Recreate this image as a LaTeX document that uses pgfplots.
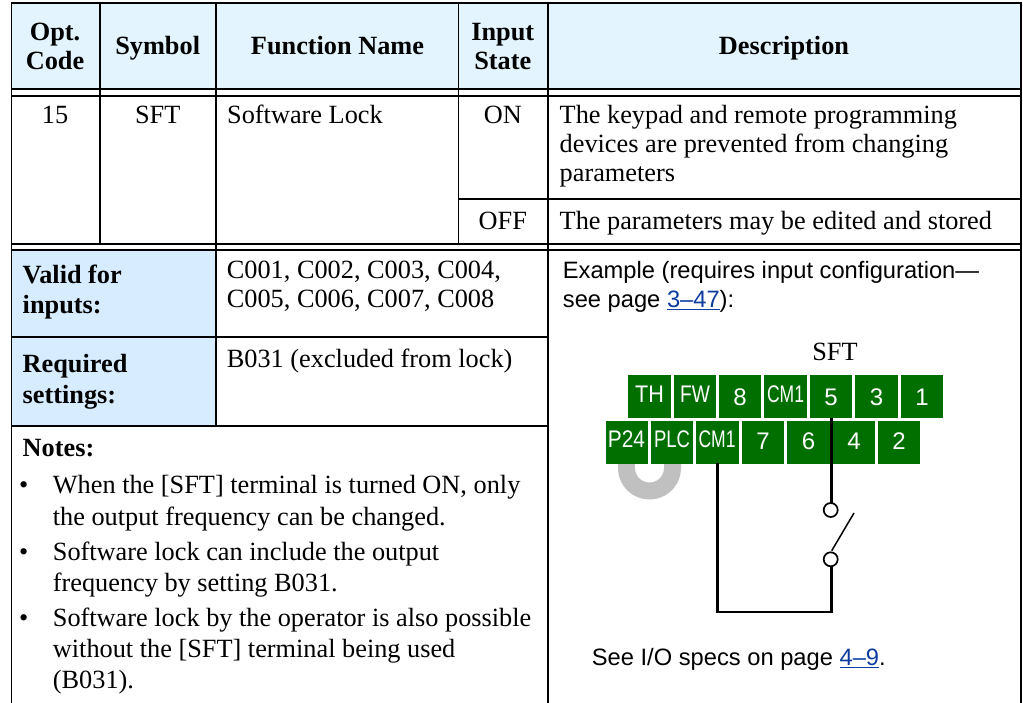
\documentclass[border=0pt]{standalone}
\usepackage{fontspec}
\setmainfont{Liberation Serif}
\newfontfamily\arial{Liberation Sans}
\usepackage{pgfplots}
\pgfplotsset{compat=1.18}
\definecolor{hdr}{HTML}{E4F4FF}
\definecolor{side}{HTML}{D7EDFF}
\definecolor{grn}{HTML}{006F00}
\definecolor{lnk}{HTML}{0B3BA0}
\definecolor{ug}{HTML}{C0C0C0}
\newcommand{\rmf}{\fontsize{26.3}{29}\selectfont}
\newcommand{\sa}{\arial\fontsize{23.7}{27}\selectfont}
\newcommand{\tT}[3]{\node[anchor=base west,inner sep=0pt] at (axis cs:#1,#2) {\rmf #3};}
\newcommand{\tC}[3]{\node[anchor=base,inner sep=0pt] at (axis cs:#1,#2) {\rmf #3};}
\newcommand{\tB}[3]{\node[anchor=base,inner sep=0pt] at (axis cs:#1,#2) {\rmf\bfseries #3};}
\newcommand{\tBL}[3]{\node[anchor=base west,inner sep=0pt] at (axis cs:#1,#2) {\rmf\bfseries #3};}
\newcommand{\tS}[3]{\node[anchor=base west,inner sep=0pt] at (axis cs:#1,#2) {\sa #3};}
\newcommand{\tG}[4]{\node[anchor=base,inner sep=0pt,text=white,xscale=#4] at (axis cs:#1,#2) {\arial\fontsize{24}{28}\selectfont #3};}
\newcommand{\tBox}[4]{\addplot[fill=grn,draw=none] coordinates {(#1,#3)(#2,#3)(#2,#4)(#1,#4)} -- cycle;}
\newcommand{\Lk}[1]{\textcolor{lnk}{\underline{#1}}}
\begin{document}
\begin{tikzpicture}
\begin{axis}[scale only axis,width=1023pt,height=703pt,xmin=0,xmax=1023,ymin=0,ymax=703,y dir=reverse,hide axis,clip=true]
% fills
\addplot[fill=hdr,draw=none] coordinates {(11,3)(1021,3)(1021,89)(11,89)} -- cycle;
\addplot[fill=side,draw=none] coordinates {(11,250)(216,250)(216,426)(11,426)} -- cycle;
% grey U
\addplot[ug,line width=17pt,smooth] coordinates {(672.5,455)(672.5,468)(671.7,474)(669.4,479.5)(665.8,484.3)(661,487.9)(655.5,490.2)(649.5,491)(643.5,490.2)(638,487.9)(633.2,484.3)(629.6,479.5)(627.3,474)(626.5,468)(626.5,455)};
% table rules
\addplot[black,line width=1.8pt] coordinates {(11,3)(1021,3)};
\addplot[black,line width=1.8pt] coordinates {(11,89)(1021,89)};
\addplot[black,line width=1.8pt] coordinates {(11,95.7)(1021,95.7)};
\addplot[black,line width=1.8pt] coordinates {(458.5,199)(1021,199)};
\addplot[black,line width=1.8pt] coordinates {(11,244)(1021,244)};
\addplot[black,line width=1.8pt] coordinates {(11,250)(1021,250)};
\addplot[black,line width=1.8pt] coordinates {(11,337.3)(547.7,337.3)};
\addplot[black,line width=1.8pt] coordinates {(11,425.7)(547.7,425.7)};
\addplot[black,line width=1.8pt] coordinates {(11.4,2)(11.4,703)};
\addplot[black,line width=1.8pt] coordinates {(100,2)(100,244)};
\addplot[black,line width=1.8pt] coordinates {(216,2)(216,426)};
\addplot[black,line width=1.8pt] coordinates {(458.5,2)(458.5,244)};
\addplot[black,line width=1.8pt] coordinates {(547.7,2)(547.7,703)};
\addplot[black,line width=1.8pt] coordinates {(1021,2)(1021,703)};
% terminals
\tBox{628}{671}{375}{417.7}
\tBox{674}{716}{375}{417.7}
\tBox{719}{761}{375}{417.7}
\tBox{764}{807}{375}{417.7}
\tBox{810}{852}{375}{417.7}
\tBox{855}{898}{375}{417.7}
\tBox{901}{943}{375}{417.7}
\tBox{606}{648}{421}{463.7}
\tBox{651}{693}{421}{463.7}
\tBox{696}{739}{421}{463.7}
\tBox{742}{784}{421}{463.7}
\tBox{787}{830}{421}{463.7}
\tBox{833}{875}{421}{463.7}
\tBox{878}{920}{421}{463.7}
% wires
\addplot[black,line width=2.5pt] coordinates {(831.7,418)(831.7,503)};
\addplot[black,line width=2.5pt] coordinates {(831.7,566)(831.7,612)(717.7,612)(717.7,463)};
\addplot[black,line width=1.5pt] coordinates {(854,513)(831.7,550.7)};
\addplot[only marks,mark=*,mark size=7pt,mark options={fill=white,draw=black,line width=1.7pt}] coordinates {(830.7,510)(830.7,559.3)};
% header
\tB{55}{40.7}{Opt.}
\tB{55}{69.3}{Code}
\tB{157.7}{55}{Symbol}
\tB{337.5}{55}{Function Name}
\tB{502.8}{40.7}{Input}
\tB{502.8}{69.3}{State}
\tB{784}{54.5}{Description}
% row
\tC{55}{124}{15}
\tC{157.7}{124}{SFT}
\tT{227}{124}{Software Lock}
\tC{502.8}{124}{ON}
\tC{502.8}{230}{OFF}
\tT{559.5}{124}{The keypad and remote programming}
\tT{559.5}{153}{devices are prevented from changing}
\tT{559.5}{182}{parameters}
\tT{559.5}{230}{The parameters may be edited and stored}
% side
\tBL{22.5}{283.3}{Valid for}
\tBL{22.5}{313.3}{inputs:}
\tT{226.7}{278.3}{C001, C002, C003, C004,}
\tT{226.7}{307.3}{C005, C006, C007, C008}
\tBL{22.5}{372.7}{Required}
\tBL{22.5}{403.3}{settings:}
\tT{226.7}{367.3}{B031 (excluded from lock)}
\tBL{22.5}{456.7}{Notes:}
\tT{19}{493.3}{\textbullet}
\tT{52.7}{493.3}{When the [SFT] terminal is turned ON, only}
\tT{52.7}{525}{the output frequency can be changed.}
\tT{19}{560.7}{\textbullet}
\tT{52.7}{560.7}{Software lock can include the output}
\tT{52.7}{591.7}{frequency by setting B031.}
\tT{19}{626.7}{\textbullet}
\tT{52.7}{626.7}{Software lock by the operator is also possible}
\tT{52.7}{657.7}{without the [SFT] terminal being used}
\tT{52.7}{688.3}{(B031).}
% right
\tS{562.7}{279}{Example (requires input configuration—}
\tS{562.7}{308}{see page \Lk{3–47}):}
\tC{835}{360}{SFT}
\tS{591.7}{665.7}{See I/O specs on page \Lk{4–9}.}
% terminal labels
\tG{649.5}{402.3}{TH}{.9}
\tG{695}{402.3}{FW}{.8}
\tG{740}{405}{8}{1}
\tG{785.5}{402.3}{CM1}{.73}
\tG{831}{405}{5}{1}
\tG{876.5}{405}{3}{1}
\tG{922}{405}{1}{1}
\tG{626.5}{447.7}{P24}{.87}
\tG{672}{447.7}{PLC}{.77}
\tG{717}{447.7}{CM1}{.73}
\tG{763}{449}{7}{1}
\tG{808.5}{449}{6}{1}
\tG{854}{449}{4}{1}
\tG{899}{449}{2}{1}
\end{axis}
\pgfresetboundingbox
\path[use as bounding box] (current axis.south west) rectangle (current axis.north east);
\end{tikzpicture}
\end{document}
